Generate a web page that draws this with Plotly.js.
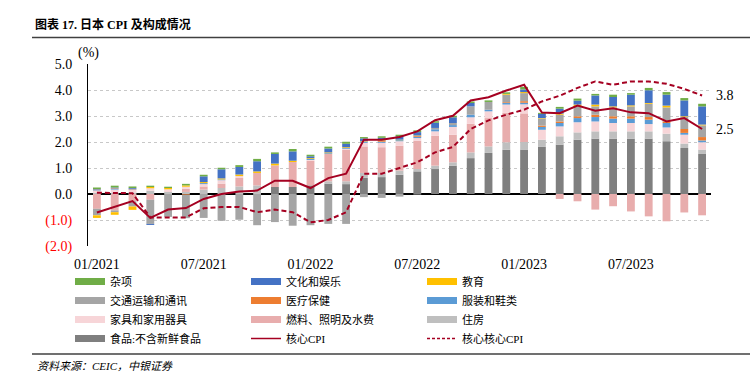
<!DOCTYPE html>
<html>
<head>
<meta charset="utf-8">
<script src="https://cdn.plot.ly/plotly-3.0.1.min.js"></script>
<style>html,body{margin:0;padding:0;background:#fff;}#chart{width:750px;height:377px;}</style>
</head>
<body>
<div id="chart"></div>
<script>
const months = ['01/2021','02/2021','03/2021','04/2021','05/2021','06/2021','07/2021','08/2021','09/2021','10/2021','11/2021','12/2021',
  '01/2022','02/2022','03/2022','04/2022','05/2022','06/2022','07/2022','08/2022','09/2022','10/2022','11/2022','12/2022',
  '01/2023','02/2023','03/2023','04/2023','05/2023','06/2023','07/2023','08/2023','09/2023','10/2023','11/2023'];
const tickLabels = ['01/2021','07/2021','01/2022','07/2022','01/2023','07/2023'];
const yTicks = [-2,-1,0,1,2,3,4,5];

const misc      = [0.06,0.07,0.06,0.05,0.05,0.06,0.06,0.06,0.07,0.09,0.06,0.09, 0.06,0.07,0.08,0.05,0.06,0.06,0.07,0.06,0.06,0.06,0.06,0.06, 0.10,0.04,0.07,0.08,0.06,0.09,0.06,0.09,0.10,0.09,0.10];
const culture   = [0.02,0.03,0.03,-0.04,0.00,0.00,0.22,0.35,0.29,0.39,0.37,0.36, 0.07,0.15,0.13,0.11,0.09,0.13,0.13,0.20,0.22,0.13,0.00,0.00, 0.10,0.16,0.19,0.15,0.35,0.36,0.41,0.49,0.42,0.61,0.70];
const education = [-0.10,-0.10,-0.13,0.05,0.05,0.05,0.04,0.04,0.06,0.06,0.07,0.05, 0.03,0.03,0.03,0.02,0.02,0.02,0.02,0.00,0.00,0.00,0.00,0.03, 0.04,0.02,0.04,0.07,0.07,0.04,0.04,0.03,0.07,0.03,0.03];
const transport = [-0.25,-0.07,-0.20,-0.93,-0.88,-0.90,-0.92,-1.03,-0.99,-1.20,-1.08,-1.22, -1.20,-1.15,-1.15,-0.12,-0.15,-0.10,-0.02,0.05,0.08,0.32,0.30,0.29, 0.31,0.27,0.26,0.38,0.32,0.34,0.38,0.51,0.54,0.46,0.45];
const medical   = [0.02,0.02,0.02,0.00,0.00,-0.03,0.00,0.00,0.00,0.00,0.00,0.00, 0.00,0.00,0.00,0.00,0.04,0.00,0.03,0.00,0.00,0.00,0.00,0.03, 0.06,0.05,0.06,0.07,0.09,0.09,0.09,0.10,0.06,0.15,0.13];
const clothing  = [0.02,0.03,0.02,0.00,0.00,0.00,0.04,0.03,0.00,0.00,0.00,0.00, 0.04,0.03,0.03,0.04,0.04,0.04,0.05,0.08,0.07,0.10,0.06,0.06, 0.06,0.11,0.13,0.16,0.17,0.17,0.17,0.17,0.17,0.07,0.07];
const furniture = [0.08,0.12,0.10,0.09,0.08,0.08,0.09,0.13,0.07,0.00,0.00,0.00, 0.03,0.00,0.04,0.14,0.17,0.17,0.10,0.17,0.30,0.25,0.26,0.32, 0.35,0.38,0.38,0.39,0.38,0.32,0.32,0.28,0.24,0.34,0.28];
const fuel      = [-0.57,-0.63,-0.28,-0.22,0.02,0.12,0.12,0.17,0.33,0.48,0.83,0.96, 0.95,1.05,1.21,1.02,0.99,0.96,1.09,1.15,1.06,1.10,1.09,1.13, 1.10,0.00,-0.19,-0.28,-0.60,-0.47,-0.67,-0.86,-1.05,-0.71,-0.82];
const housing   = [0.05,0.05,0.06,0.13,0.08,0.08,0.17,0.23,0.29,0.33,0.00,0.00, 0.00,0.09,0.11,0.19,0.16,0.16,0.09,0.13,0.13,0.22,0.25,0.29, 0.29,0.28,0.32,0.28,0.28,0.28,0.28,0.28,0.29,0.17,0.17];
const food      = [0.00,0.00,0.00,0.00,0.00,0.00,0.00,0.00,0.00,0.00,0.27,0.27, 0.33,0.40,0.38,0.62,0.65,0.74,0.87,0.96,1.09,1.38,1.58,1.70, 1.71,1.81,1.90,2.09,2.13,2.13,2.13,2.13,2.03,1.77,1.54];
const coreCPI     = [-0.71,-0.50,-0.27,-0.92,-0.60,-0.54,-0.19,0.00,0.10,0.13,0.51,0.51, 0.23,0.61,0.78,2.09,2.09,2.19,2.41,2.84,3.01,3.60,3.72,3.98, 4.20,3.13,3.11,3.40,3.20,3.30,3.14,3.11,2.79,2.92,2.50];
const coreCoreCPI = [0.05,0.03,0.03,-0.90,-0.90,-0.90,-0.55,-0.50,-0.50,-0.70,-0.60,-0.70, -1.09,-1.00,-0.70,0.78,0.78,1.00,1.22,1.60,1.81,2.50,2.83,3.05, 3.24,3.56,3.78,4.08,4.33,4.20,4.33,4.33,4.24,4.04,3.79];

const seriesNames = ['杂项','文化和娱乐','教育','交通运输和通讯','医疗保健','服装和鞋类','家具和家用器具','燃料、照明及水费','住房','食品:不含新鲜食品'];
const seriesData  = [misc, culture, education, transport, medical, clothing, furniture, fuel, housing, food];
const seriesColors = ['#70AD47','#4472C4','#FFC000','#A5A5A5','#ED7D31','#5B9BD5','#F7D5D8','#E8ADAD','#BFBFBF','#7F7F7F'];
const lineColor = '#A50021';

const FONT = "'Liberation Serif', 'Noto Sans CJK SC', serif";
const traces = [];
// stacked bars: bottom (food) first
for (let i = seriesData.length - 1; i >= 0; i--) {
  traces.push({type:'bar', x: months, y: seriesData[i], name: seriesNames[i], marker:{color: seriesColors[i], line:{width:0}},
    width: 0.44, showlegend:false, hoverinfo:'skip'});
}
traces.push({type:'scatter', mode:'lines', x: months, y: coreCPI, name:'核心CPI', line:{color: lineColor, width:2}, showlegend:false, hoverinfo:'skip'});
traces.push({type:'scatter', mode:'lines', x: months, y: coreCoreCPI, name:'核心核心CPI', line:{color: lineColor, width:2, dash:'5px,3px'}, showlegend:false, hoverinfo:'skip'});
// legend entries (wide swatches), in reference legend order
for (let i = 0; i < seriesNames.length; i++) {
  traces.push({type:'scatter', mode:'lines', x:[null], y:[null], name: seriesNames[i], line:{color: seriesColors[i], width:7}, hoverinfo:'skip'});
}
traces.push({type:'scatter', mode:'lines', x:[null], y:[null], name:'核心CPI', line:{color: lineColor, width:1.5}, hoverinfo:'skip'});
traces.push({type:'scatter', mode:'lines', x:[null], y:[null], name:'核心核心CPI', line:{color: lineColor, width:1.5, dash:'3px,2px'}, hoverinfo:'skip'});

const yText = yTicks.map(v => v < 0 ? '<span style="color:#FF0000">(' + Math.abs(v).toFixed(1) + ')</span>' : v.toFixed(1));
const gridVals = [4.5, 9.5, 14.5, 19.5, 24.5, 29.5, 34.5];
const n = months.length;

const layout = {
  width: 750, height: 377,
  margin: {l: 88, r: 39, t: 64, b: 131, pad: 0},
  paper_bgcolor: '#fff', plot_bgcolor: '#fff',
  font: {family: FONT, size: 14, color: '#000'},
  barmode: 'relative',
  showlegend: true,
  hovermode: false,
  title: {text: '<b>图表 17. 日本 CPI 及构成情况</b>', font: {family: FONT, size: 12, color: '#000'},
    x: 35/750, xanchor: 'left', xref: 'container', y: 1 - 25/377, yanchor: 'middle', yref: 'container'},
  xaxis: {type: 'category', range: [-0.5, n - 0.5], tickvals: tickLabels, ticktext: tickLabels, showgrid: false, showline: false,
    zeroline: false, ticks: '', ticklabelstandoff: 8, tickfont: {size: 14}},
  xaxis2: {overlaying: 'x', anchor: 'free', position: 2/7, range: [-0.5, n - 0.5], tickvals: gridVals, showticklabels: false,
    ticks: 'outside', ticklen: 4, tickcolor: '#000', tickwidth: 1, showgrid: true, gridcolor: '#C8C8C8', griddash: 'dot', gridwidth: 1,
    showline: false, zeroline: false},
  yaxis: {range: [-2, 5], tickvals: yTicks, ticktext: yText, showgrid: true, gridcolor: '#C8C8C8', griddash: 'dot', gridwidth: 1,
    zeroline: true, zerolinecolor: '#000', zerolinewidth: 1.3, showline: true, linecolor: '#000', linewidth: 1,
    ticks: '', ticklabelstandoff: 12, tickfont: {size: 14}},
  legend: {orientation: 'h', xref: 'container', yref: 'container', x: 70/750, y: 1 - 267/377, xanchor: 'left', yanchor: 'top',
    entrywidth: 131, entrywidthmode: 'pixels', font: {family: FONT, size: 11, color: '#000'}, itemclick: false, itemdoubleclick: false,
    tracegroupgap: 0, bgcolor: 'rgba(0,0,0,0)'},
  annotations: [
    {xref: 'paper', yref: 'paper', x: 0, y: 1, xanchor: 'center', yanchor: 'bottom', yshift: 1, text: '(%)', showarrow: false, font: {size: 14}},
    {xref: 'x', yref: 'y', x: n - 1, y: coreCoreCPI[n - 1], xanchor: 'left', yanchor: 'middle', xshift: 12, text: coreCoreCPI[n - 1].toFixed(1), showarrow: false, font: {size: 14}},
    {xref: 'x', yref: 'y', x: n - 1, y: coreCPI[n - 1], xanchor: 'left', yanchor: 'middle', xshift: 12, text: coreCPI[n - 1].toFixed(1), showarrow: false, font: {size: 14}},
    {xref: 'paper', yref: 'paper', x: -53/623, y: (246 - 366)/182, xanchor: 'left', yanchor: 'middle', text: '<i>资料来源：CEIC，中银证券</i>', showarrow: false,
      font: {size: 11, color: '#000'}}
  ],
  shapes: [
    {type: 'line', xref: 'paper', yref: 'paper', x0: (32 - 88)/623, x1: (750 - 88)/623, y0: (246 - 37.5)/182, y1: (246 - 37.5)/182, line: {color: '#404040', width: 1.5}},
    {type: 'line', xref: 'paper', yref: 'paper', x0: (32 - 88)/623, x1: (750 - 88)/623, y0: (246 - 354)/182, y1: (246 - 354)/182, line: {color: '#404040', width: 1.5}}
  ]
};

Plotly.newPlot('chart', traces, layout, {staticPlot: true, displayModeBar: false});
</script>
</body>
</html>
